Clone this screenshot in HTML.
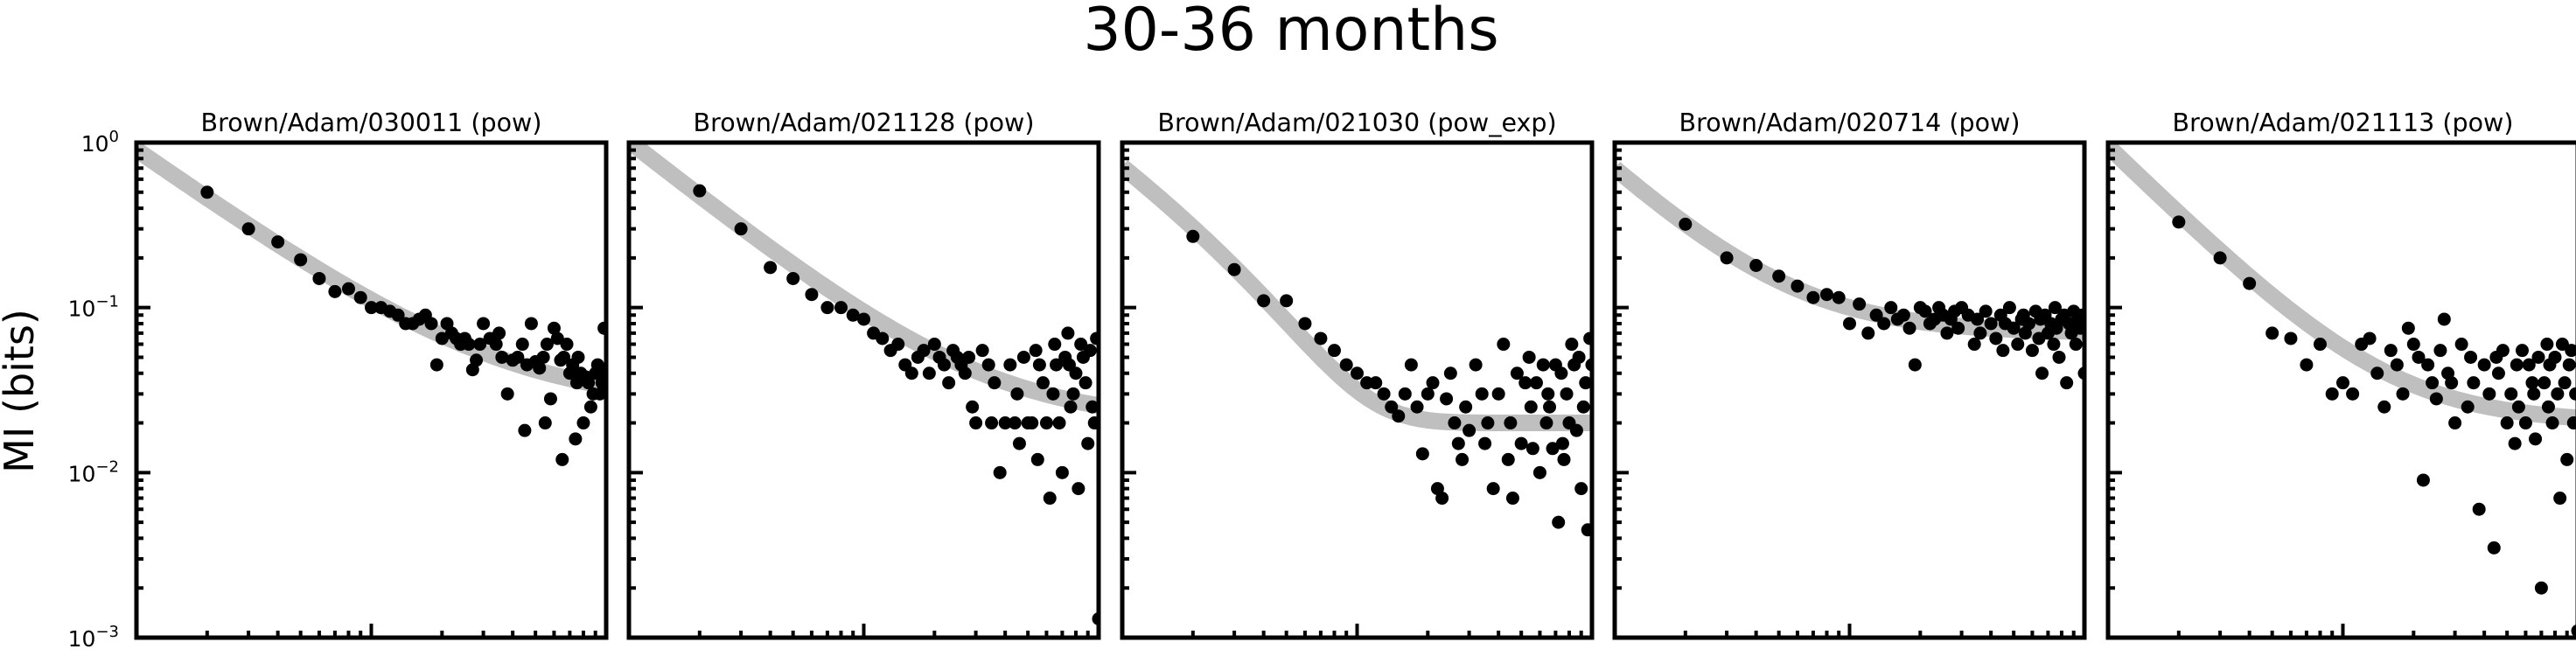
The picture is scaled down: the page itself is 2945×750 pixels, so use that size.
<!DOCTYPE html>
<html><head><meta charset="utf-8">
<style>
html,body{margin:0;padding:0;background:#fff;}
svg{display:block;font-family:"DejaVu Sans","Liberation Sans",sans-serif;}
</style></head>
<body>
<svg id="fig" width="2945" height="750" viewBox="0 0 2945 750" xmlns="http://www.w3.org/2000/svg">
<text x="1476" y="57" font-size="68" text-anchor="middle">30-36 months</text>
<text transform="translate(38,447) rotate(-90)" font-size="46" text-anchor="middle">MI (bits)</text>
</svg>
<script>
const titles = ["Brown/Adam/030011 (pow)","Brown/Adam/021128 (pow)","Brown/Adam/021030 (pow_exp)","Brown/Adam/020714 (pow)","Brown/Adam/021113 (pow)"];
const xVals = [2,3,4,5,6,7,8,9,10,11,12,13,14,15,16,17,18,19,20,21,22,23,24,25,26,27,28,29,30,32,34,35,36,38,40,42,44,45,46,48,50,52,54,55,56,58,60,62,64,65,66,68,70,72,74,75,76,78,80,82,84,86,88,90,92,94,96,98,100];
const y1 = [0.5,0.3,0.25,0.195,0.15,0.125,0.13,0.115,0.1,0.1,0.095,0.09,0.08,0.08,0.085,0.09,0.08,0.045,0.065,0.08,0.07,0.065,0.06,0.065,0.06,0.042,0.048,0.06,0.08,0.065,0.06,0.07,0.05,0.03,0.048,0.05,0.06,0.018,0.045,0.08,0.047,0.043,0.05,0.02,0.06,0.028,0.075,0.065,0.048,0.012,0.05,0.06,0.04,0.045,0.016,0.035,0.05,0.04,0.02,0.038,0.035,0.025,0.03,0.04,0.045,0.03,0.035,0.075,0.04];
const y2 = [0.51,0.3,0.175,0.15,0.12,0.1,0.1,0.09,0.085,0.07,0.065,0.055,0.06,0.045,0.04,0.05,0.055,0.04,0.06,0.05,0.045,0.035,0.055,0.05,0.045,0.04,0.05,0.025,0.02,0.055,0.045,0.02,0.035,0.01,0.02,0.045,0.02,0.03,0.015,0.05,0.02,0.02,0.055,0.012,0.045,0.035,0.02,0.007,0.03,0.06,0.045,0.02,0.01,0.05,0.07,0.045,0.025,0.03,0.04,0.008,0.06,0.05,0.035,0.015,0.055,0.025,0.02,0.065,0.0013];
const y3 = [0.27,0.17,0.11,0.11,0.08,0.065,0.055,0.045,0.04,0.035,0.035,0.03,0.025,0.022,0.03,0.045,0.025,0.013,0.03,0.035,0.008,0.007,0.028,0.04,0.02,0.015,0.012,0.025,0.018,0.045,0.03,0.015,0.02,0.008,0.03,0.06,0.012,0.02,0.007,0.04,0.015,0.035,0.05,0.025,0.014,0.035,0.01,0.045,0.02,0.03,0.025,0.014,0.045,0.005,0.04,0.015,0.012,0.03,0.02,0.06,0.045,0.018,0.05,0.008,0.025,0.035,0.0045,0.065,0.045];
const y4 = [0.32,0.2,0.18,0.155,0.135,0.115,0.12,0.115,0.08,0.105,0.07,0.09,0.08,0.1,0.085,0.09,0.075,0.045,0.1,0.095,0.08,0.085,0.1,0.09,0.07,0.085,0.095,0.075,0.1,0.09,0.06,0.085,0.07,0.095,0.08,0.065,0.09,0.055,0.08,0.1,0.075,0.06,0.085,0.09,0.07,0.08,0.055,0.095,0.065,0.085,0.04,0.09,0.07,0.08,0.06,0.1,0.075,0.05,0.085,0.09,0.035,0.08,0.07,0.095,0.06,0.085,0.075,0.09,0.04];
const y5 = [0.33,0.2,0.14,0.07,0.065,0.045,0.06,0.03,0.035,0.03,0.06,0.065,0.04,0.025,0.055,0.045,0.03,0.075,0.06,0.05,0.009,0.045,0.035,0.028,0.055,0.085,0.04,0.035,0.02,0.06,0.025,0.05,0.035,0.006,0.045,0.03,0.0035,0.05,0.04,0.055,0.02,0.03,0.015,0.045,0.025,0.055,0.02,0.045,0.035,0.03,0.016,0.05,0.002,0.035,0.06,0.025,0.045,0.02,0.05,0.03,0.007,0.06,0.035,0.012,0.045,0.055,0.02,0.03,0.0011];
const ySeries = [y1,y2,y3,y4,y5];
// fit params: a, b, c, L (L=0 means no exp cutoff)
const fitA = [0.88,1.0,0.85,0.63,0.93];
const fitB = [1.01,1.13,1.0,1.32,1.4];
const fitC = [0.025,0.02,0.02,0.07,0.02];
const fitL = [0,0,5,0,0];
const yTickExp = [0,-1,-2,-3];

const NS="http://www.w3.org/2000/svg";
const svg=document.getElementById('fig');
const lefts=[156,719,1283,1846,2410];
const TOP=163, W=537, H=566;
function mk(tag,attrs,parent){const e=document.createElementNS(NS,tag);for(const k in attrs)e.setAttribute(k,attrs[k]);(parent||svg).appendChild(e);return e;}
const defs=mk('defs',{});
lefts.forEach((L,p)=>{
  const xs=x=>L+W*Math.log10(x)/2;
  const ys=y=>TOP+H*(-Math.log10(y))/3;
  const cp=mk('clipPath',{id:'clip'+p},defs);
  mk('rect',{x:L,y:TOP,width:W,height:H},cp);
  const g=mk('g',{});
  
  
  const t=mk('text',{x:L+W/2,y:150,'font-size':28.5,'text-anchor':'middle'},g);
  t.textContent=titles[p];
  
  
  const cg=mk('g',{'clip-path':'url(#clip'+p+')'},g);
  let d='';
  for(let i=0;i<=120;i++){const x=Math.pow(10,2*i/120);
    let y=fitA[p]*Math.pow(x,-fitB[p])*(fitL[p]?Math.exp(-x/fitL[p]):1)+fitC[p];
    d+=(i?'L':'M')+xs(x).toFixed(1)+','+ys(y).toFixed(1);}
  const fc=mk('path',{d:d,fill:'none',stroke:'#bfbfbf','stroke-width':19},cg);
  
  
  const ysr=ySeries[p];const n=Math.min(xVals.length,ysr.length);
  for(let i=0;i<n;i++){
    const c=mk('circle',{cx:xs(xVals[i]),cy:ys(ysr[i]),r:7.5,fill:'#000'},cg);
    
    
  }
  let td='';
  for(let e=0;e<3;e++){for(let m=2;m<10;m++){const v=Math.pow(10,-e-1)*m; const yy=ys(v); td+='M'+L+','+yy+'h8';}}
  yTickExp.forEach(e=>{const yy=ys(Math.pow(10,e)); td+='M'+L+','+yy+'h16';});
  for(let e=0;e<2;e++){for(let m=2;m<10;m++){const xx=xs(m*Math.pow(10,e)); td+='M'+xx+','+(TOP+H)+'v-8';}}
  td+='M'+xs(10)+','+(TOP+H)+'v-16';
  mk('path',{d:td,stroke:'#000','stroke-width':4,fill:'none'},g);
  const fr=mk('rect',{x:L,y:TOP,width:W,height:H,fill:'none',stroke:'#000','stroke-width':5},g);
  
  
  if(p===0){
    yTickExp.forEach(e=>{
      const tl=mk('text',{x:136,y:ys(Math.pow(10,e))+10,'font-size':25,'text-anchor':'end'});
      
      
      tl.appendChild(document.createTextNode('10'));
      const ts=mk('tspan',{dy:-11,'font-size':18},tl);
      ts.textContent=e===0?'0':'\u2212'+(-e);
    });
  }
});
</script>
</body></html>
